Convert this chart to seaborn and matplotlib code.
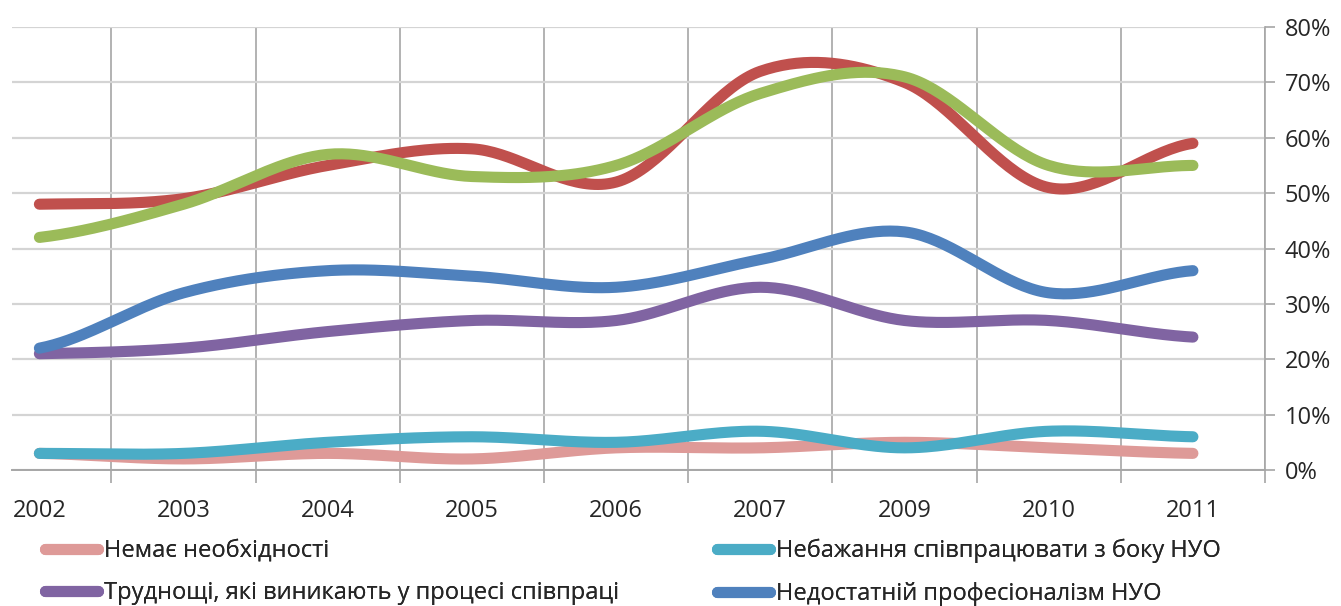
import numpy as np
import pandas as pd
import matplotlib
matplotlib.use("Agg")
import matplotlib.pyplot as plt
import seaborn as sns
from matplotlib.lines import Line2D
from matplotlib.ticker import FixedLocator, PercentFormatter

# --- дані (значення у %) ---
years = ["2002", "2003", "2004", "2005", "2006", "2007", "2009", "2010", "2011"]
no_need = [3, 2, 3, 2, 4, 4, 5, 4, 3]
unwilling = [3, 3, 5, 6, 5, 7, 4, 7, 6]
difficulties = [21, 22, 25, 27, 27, 33, 27, 27, 24]
low_prof = [22, 32, 36, 35, 33, 38, 43, 32, 36]
series_red = [48, 49, 55, 58, 52, 72, 70, 51, 59]
series_green = [42, 48, 57, 53, 55, 68, 71, 55, 55]

names = ["Немає необхідності",
         "Небажання співпрацювати з боку НУО",
         "Труднощі, які виникають у процесі співпраці",
         "Недостатній професіоналізм НУО",
         "Ряд 5",
         "Ряд 6"]
values = [no_need, unwilling, difficulties, low_prof, series_red, series_green]
colors = ["#DE9A98", "#4BACC6", "#8064A2", "#4F81BD", "#C0504D", "#9BBB59"]


def smooth(vals, steps=40):
    # згладжування як у Excel (Catmull-Rom)
    p = np.asarray(vals, dtype=float)
    n = len(p)
    m = np.empty(n)
    m[1:-1] = (p[2:] - p[:-2]) / 2
    m[0] = (p[1] - p[0]) / 2
    m[-1] = (p[-1] - p[-2]) / 2
    xs, ys = [], []
    for i in range(n - 1):
        t = np.linspace(0, 1, steps, endpoint=(i == n - 2))
        h00 = 2 * t**3 - 3 * t**2 + 1
        h10 = t**3 - 2 * t**2 + t
        h01 = -2 * t**3 + 3 * t**2
        h11 = t**3 - t**2
        ys.append(h00 * p[i] + h10 * m[i] + h01 * p[i + 1] + h11 * m[i + 1])
        xs.append(i + t)
    return np.concatenate(xs), np.concatenate(ys)


frames = []
for name, vals in zip(names, values):
    x, y = smooth(vals)
    frames.append(pd.DataFrame({"x": x, "value": y / 100, "series": name}))
df = pd.concat(frames, ignore_index=True)

# --- оформлення ---
sns.set_style("white")
plt.rcParams["font.family"] = ["Open Sans", "DejaVu Sans"]
text_color = "#262626"
fs = 17

fig = plt.figure(figsize=(13.41, 6.06), dpi=100)
ax = fig.add_axes([12 / 1341, 136 / 606, 1253 / 1341, 443 / 606])

sns.lineplot(data=df, x="x", y="value", hue="series", hue_order=names,
             palette=colors, linewidth=8, estimator=None, sort=False,
             solid_capstyle="round", legend=False, ax=ax)

ax.set_xlim(-0.19, 8.5)
ax.set_ylim(0, 0.8)
ax.set_xlabel("")
ax.set_ylabel("")

# вісь X: підписи по центру, сітка на межах категорій
ax.set_xticks(range(len(years)))
ax.set_xticklabels(years, fontsize=fs, color=text_color)
ax.xaxis.set_minor_locator(FixedLocator(np.arange(0.5, len(years), 1)))
ax.tick_params(axis="x", which="major", length=0, pad=21)
ax.tick_params(axis="x", which="minor", length=9, width=1.2, color="#A6A6A6",
               direction="out", bottom=True)
ax.grid(axis="x", which="minor", color="#A6A6A6", linewidth=1.2)

# вісь Y праворуч
ax.yaxis.tick_right()
ax.set_yticks(np.arange(0, 0.81, 0.1))
ax.yaxis.set_major_formatter(PercentFormatter(1.0, decimals=0))
ax.tick_params(axis="y", which="major", length=7, width=1.2, color="#A6A6A6",
               direction="out", pad=7, labelsize=fs, labelcolor=text_color,
               right=True, left=False)
ax.grid(axis="y", which="major", color="#D4D4D4", linewidth=1.6)
ax.set_axisbelow(True)

for side in ["top", "left"]:
    ax.spines[side].set_visible(False)
ax.spines["right"].set_color("#A6A6A6")
ax.spines["right"].set_linewidth(1.2)
ax.spines["bottom"].set_color("#A6A6A6")
ax.spines["bottom"].set_linewidth(1.4)

# легенда (видно лише чотири ряди), дві колонки
legend_kw = dict(loc="upper left", frameon=False, fontsize=fs,
                 handlelength=2.25, handletextpad=0.25, labelspacing=0.78,
                 borderpad=0, borderaxespad=0, labelcolor=text_color)
for col, x0 in [([0, 2], 45), ([1, 3], 717)]:
    handles = [Line2D([], [], color=colors[i], linewidth=8,
                      solid_capstyle="round") for i in col]
    leg = fig.legend(handles, [names[i] for i in col],
                     bbox_to_anchor=(x0 / 1341, 1 - 539 / 606), **legend_kw)
    fig.add_artist(leg)

plt.savefig("out.png", dpi=100)
